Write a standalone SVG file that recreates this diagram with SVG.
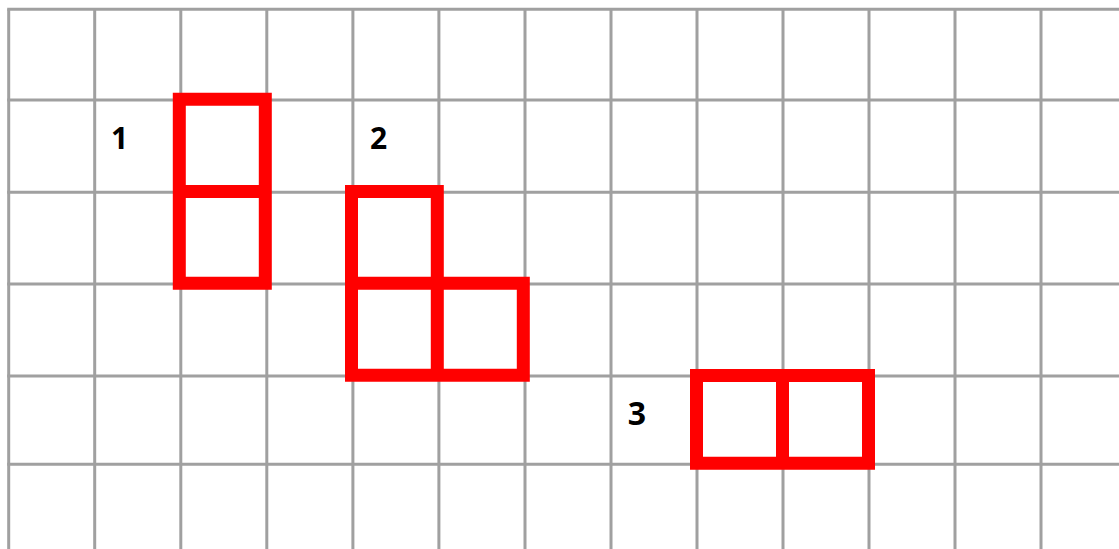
<svg xmlns="http://www.w3.org/2000/svg" width="1119" height="549" viewBox="0 0 1119 549">
<style>
.g{stroke:#a0a0a0;stroke-width:3;fill:none}
.r{stroke:#ff0000;stroke-width:13;fill:none;stroke-linecap:square}
.t{font-family:"Open Sans",sans-serif;font-weight:bold;fill:#000}
</style>
<rect width="1119" height="549" fill="#fff"/>
<g id="grid" class="g">
<path d="M8.7 9.3V549M94.7 9.3V549M180.8 9.3V549M266.8 9.3V549M352.9 9.3V549M438.9 9.3V549M525 9.3V549M611 9.3V549M697 9.3V549M783 9.3V549M869 9.3V549M955 9.3V549M1041 9.3V549"/>
<path d="M7.2 9.3H1119M7.2 100H1119M7.2 192.3H1119M7.2 284H1119M7.2 376H1119M7.2 464.3H1119"/>
</g>
<g id="shape1">
<path class="r" d="M179.3 99.3H265.3V283.3H179.3ZM179.3 191.5H265.3"/>
<text class="t" x="119.5" y="149" font-size="30" text-anchor="middle">1</text>
</g>
<g id="shape2">
<path class="r" d="M351.5 191.5H437.3V375.3H351.5ZM351.5 283.3H523.3V375.3H437.3"/>
<text class="t" x="378.5" y="149" font-size="30" text-anchor="middle">2</text>
</g>
<g id="shape3">
<path class="r" d="M696.5 375.5H868.5V463.3H696.5ZM782.5 375.5V463.3"/>
<text class="t" x="637" y="425" font-size="32" text-anchor="middle">3</text>
</g>
</svg>
